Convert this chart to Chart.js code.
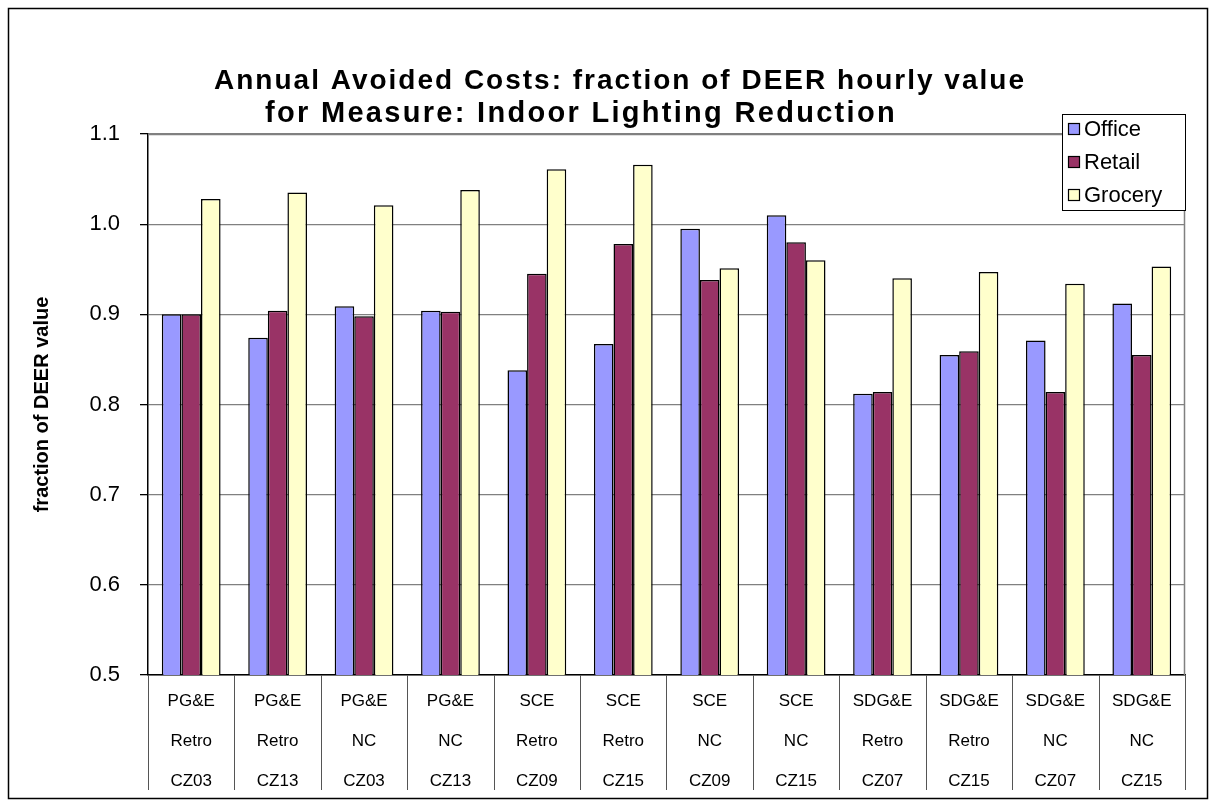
<!DOCTYPE html>
<html>
<head>
<meta charset="utf-8">
<script src="https://cdn.jsdelivr.net/npm/chart.js@4/dist/chart.umd.min.js"></script>
<style>
  html, body { margin: 0; padding: 0; background: #fff; }
  #wrap { width: 1218px; height: 807px; }
</style>
</head>
<body>
<div id="wrap"><canvas id="myChart" width="1218" height="807"></canvas></div>
<script>
const categories = [
  ['PG&E', 'Retro', 'CZ03'], ['PG&E', 'Retro', 'CZ13'], ['PG&E', 'NC', 'CZ03'], ['PG&E', 'NC', 'CZ13'],
  ['SCE', 'Retro', 'CZ09'], ['SCE', 'Retro', 'CZ15'], ['SCE', 'NC', 'CZ09'], ['SCE', 'NC', 'CZ15'],
  ['SDG&E', 'Retro', 'CZ07'], ['SDG&E', 'Retro', 'CZ15'], ['SDG&E', 'NC', 'CZ07'], ['SDG&E', 'NC', 'CZ15']
];
const office  = [0.900, 0.874, 0.909, 0.904, 0.838, 0.867, 0.995, 1.010, 0.812, 0.855, 0.871, 0.912];
const retail  = [0.900, 0.904, 0.898, 0.903, 0.945, 0.978, 0.938, 0.980, 0.814, 0.859, 0.814, 0.855];
const grocery = [1.028, 1.035, 1.021, 1.038, 1.061, 1.066, 0.951, 0.960, 0.940, 0.947, 0.934, 0.953];
const yTicks = [0.5, 0.6, 0.7, 0.8, 0.9, 1.0, 1.1];
const titleLines = ['Annual Avoided Costs: fraction of DEER hourly value', 'for Measure: Indoor Lighting Reduction'];

const FONT = "'Liberation Sans', Arial, sans-serif";

// outer frame, title, plot border, category separators and the boxed legend
const excelBits = {
  id: 'excelBits',
  beforeDraw(chart) {
    const c = chart.ctx;
    c.save();
    c.fillStyle = '#fff';
    c.fillRect(0, 0, chart.width, chart.height);
    c.strokeStyle = '#000';
    c.lineWidth = 1.5;
    c.strokeRect(8.5, 8.5, 1199, 790);
    c.restore();
  },
  afterDraw(chart) {
    const c = chart.ctx;
    const a = chart.chartArea;
    const x = chart.scales.x;
    c.save();
    // title, a bit spaced out like the original
    c.fillStyle = '#000';
    c.textAlign = 'center';
    c.textBaseline = 'middle';
    c.font = 'bold 28px ' + FONT;
    c.letterSpacing = '2px';
    c.fillText(titleLines[0], 620, 81);
    c.font = 'bold 29px ' + FONT;
    c.letterSpacing = '2.3px';
    c.fillText(titleLines[1], 581, 114);
    c.letterSpacing = '0px';
    c.textAlign = 'left';
    // plot area border top/right
    c.strokeStyle = '#808080';
    c.lineWidth = 1.5;
    c.beginPath();
    c.moveTo(a.left, a.top + 0.5);
    c.lineTo(a.right - 0.5, a.top + 0.5);
    c.lineTo(a.right - 0.5, a.bottom);
    c.stroke();
    // separators under the axis
    c.strokeStyle = '#555';
    c.lineWidth = 1;
    const half = (x.getPixelForValue(1) - x.getPixelForValue(0)) / 2;
    for (let i = 0; i <= categories.length; i++) {
      const px = Math.round(x.getPixelForValue(i) - half) + 0.5;
      c.beginPath();
      c.moveTo(px, a.bottom);
      c.lineTo(px, a.bottom + 115);
      c.stroke();
    }
    // legend box
    const lx = a.right - 123, ly = a.top - 20, lw = 123, lh = 96;
    c.fillStyle = '#fff';
    c.fillRect(lx, ly, lw, lh);
    c.strokeStyle = '#000';
    c.strokeRect(lx + 0.5, ly + 0.5, lw, lh);
    c.font = '22px ' + FONT;
    chart.data.datasets.forEach((ds, i) => {
      const cy = ly + 15 + i * 33;
      c.fillStyle = ds.backgroundColor;
      c.fillRect(lx + 6, cy - 6, 12, 12);
      c.strokeStyle = '#000';
      c.lineWidth = 1.2;
      c.strokeRect(lx + 6.5, cy - 5.5, 11, 11);
      c.fillStyle = '#000';
      c.fillText(ds.label, lx + 22, cy + 1);
    });
    c.restore();
  }
};

new Chart(document.getElementById('myChart').getContext('2d'), {
  type: 'bar',
  data: {
    labels: categories,
    datasets: [
      { label: 'Office', data: office, backgroundColor: '#9999FF' },
      { label: 'Retail', data: retail, backgroundColor: '#993366' },
      { label: 'Grocery', data: grocery, backgroundColor: '#FFFFCC' }
    ]
  },
  options: {
    responsive: false,
    animation: false,
    layout: { padding: { top: 134, right: 33, bottom: 0, left: 0 } },
    datasets: {
      bar: {
        borderColor: '#000',
        borderWidth: 1.5,
        borderSkipped: 'bottom',
        categoryPercentage: 0.68,
        barPercentage: 1.0
      }
    },
    scales: {
      x: {
        grid: { display: false },
        border: { color: '#000', width: 1.5 },
        ticks: {
          color: '#000',
          padding: -2,
          maxRotation: 0,
          autoSkip: false,
          font: { family: FONT, size: 17, lineHeight: 2.35 }
        },
        afterFit(scale) { scale.height = 132; }
      },
      y: {
        min: 0.5,
        max: 1.1,
        afterBuildTicks(scale) { scale.ticks = yTicks.map(v => ({ value: v })); },
        grid: { color: '#808080', tickColor: '#000', tickLength: 8, lineWidth: 1.3 },
        border: { color: '#000', width: 1.5 },
        ticks: {
          color: '#000',
          padding: 20,
          font: { family: FONT, size: 22 },
          callback: v => v.toFixed(1)
        },
        title: {
          display: true,
          text: 'fraction of DEER value',
          color: '#000',
          padding: { top: 30, bottom: 0 },
          font: { family: FONT, size: 20, weight: 'bold' }
        },
        afterFit(scale) { scale.width = 148; }
      }
    },
    plugins: {
      legend: { display: false },
      tooltip: { enabled: false },
      title: { display: false }
    }
  },
  plugins: [excelBits]
});
</script>
</body>
</html>
